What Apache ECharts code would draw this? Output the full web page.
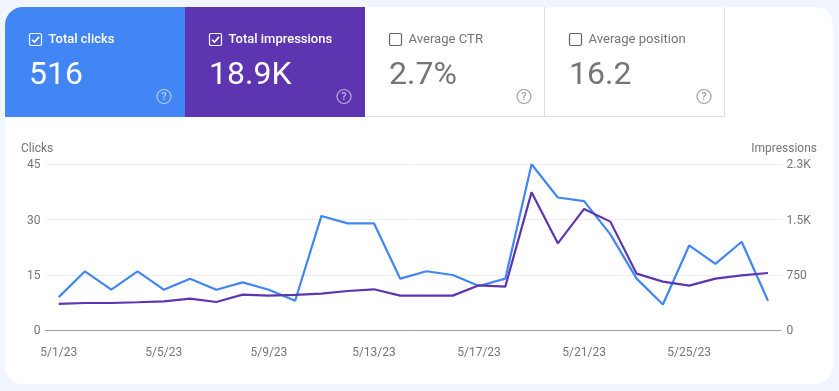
<!DOCTYPE html>
<html>
<head>
<meta charset="utf-8">
<style>html,body{margin:0;padding:0;background:#f1f5fd}#c{width:839px;height:391px}</style>
<script src="https://cdn.jsdelivr.net/npm/echarts@6/dist/echarts.min.js"></script>
</head>
<body>
<div id="c"></div>
<script>
const categories = ['5/1/23','5/2/23','5/3/23','5/4/23','5/5/23','5/6/23','5/7/23','5/8/23','5/9/23','5/10/23','5/11/23','5/12/23','5/13/23','5/14/23','5/15/23','5/16/23','5/17/23','5/18/23','5/19/23','5/20/23','5/21/23','5/22/23','5/23/23','5/24/23','5/25/23','5/26/23','5/27/23','5/28/23'];
const clicks = [9,16,11,16,11,14,11,13,11,8,31,29,29,14,16,15,12,14,45,36,35,26,14,7,23,18,24,8];
const impressions = [357,370,370,380,393,429,384,483,470,479,497,533,556,470,470,470,610,592,1870,1179,1645,1473,768,660,605,700,745,777];
const rightTickLabels = {0:'0',750:'750',1500:'1.5K',2250:'2.3K'};
const cardTitles = ['Total clicks','Total impressions','Average CTR','Average position'];
const cardValues = ['516','18.9K','2.7%','16.2'];

const BLUE='#4285f4', PURPLE='#5e35b1', GREY='#757575';
const cardX=[5,185,365,545], cardW=180, cardY=7, cardH=110;
const els=[];
els.push({type:'rect',z:-10,silent:true,shape:{x:5,y:7,width:828,height:377,r:18},style:{fill:'#fff'}});
cardX.forEach((x,i)=>{
  const active=i<2;
  const fg=active?'#fff':GREY;
  if(active){
    els.push({type:'rect',z:-5,silent:true,shape:{x,y:cardY,width:cardW,height:cardH,r:i===0?[18,0,0,0]:0},style:{fill:i===0?BLUE:PURPLE}});
  } else {
    els.push({type:'line',z:-5,silent:true,shape:{x1:x,y1:116.5,x2:x+cardW,y2:116.5},style:{stroke:'#e0e0e0',lineWidth:1}});
    els.push({type:'line',z:-5,silent:true,shape:{x1:x+cardW-.5,y1:7,x2:x+cardW-.5,y2:117},style:{stroke:'#e0e0e0',lineWidth:1}});
  }
  const bx=x+24.5,by=33.5;
  els.push({type:'rect',silent:true,shape:{x:bx,y:by,width:12,height:12,r:1.5},style:{fill:'none',stroke:active?'#fff':'#5f6368',lineWidth:1.2}});
  if(active) els.push({type:'polyline',silent:true,shape:{points:[[bx+2.6,by+6.2],[bx+5,by+8.6],[bx+9.6,by+3.4]]},style:{fill:'none',stroke:'#fff',lineWidth:1.6}});
  els.push({type:'text',silent:true,style:{x:x+43.5,y:39.5,text:cardTitles[i],fill:active?'#fff':GREY,font:active?'500 13px Roboto':'400 13.1px Roboto',textVerticalAlign:'middle'}});
  els.push({type:'text',silent:true,style:{x:x+24,y:75.5,text:cardValues[i],fill:fg,font:'32px Roboto',textVerticalAlign:'middle'}});
  const qx=x+159,qy=96.5,qc=active?'rgba(255,255,255,0.6)':'#9e9e9e';
  els.push({type:'circle',silent:true,shape:{cx:qx,cy:qy,r:7},style:{fill:'none',stroke:qc,lineWidth:1.2}});
  els.push({type:'text',silent:true,style:{x:qx,y:qy+.5,text:'?',fill:qc,font:'500 11px Roboto',textAlign:'center',textVerticalAlign:'middle'}});
});
els.push({type:'text',silent:true,style:{x:21,y:148.5,text:'Clicks',fill:GREY,font:'12px Roboto',textVerticalAlign:'middle'}});
els.push({type:'text',silent:true,style:{x:817,y:148.5,text:'Impressions',fill:GREY,font:'12px Roboto',textAlign:'right',textVerticalAlign:'middle'}});

const chart=echarts.init(document.getElementById('c'),null,{renderer:'canvas'});
chart.setOption({
  animation:false,
  backgroundColor:'transparent',
  textStyle:{fontFamily:'Roboto'},
  graphic:{elements:els},
  grid:{left:45.6,right:57.9,top:164.3,bottom:60.7,containLabel:false},
  xAxis:{type:'category',data:categories,boundaryGap:true,
    axisTick:{show:false},
    axisLine:{lineStyle:{color:'#9e9e9e',width:1}},
    axisLabel:{interval:3,color:GREY,fontSize:12,fontFamily:'Roboto',margin:17}},
  yAxis:[
    {type:'value',min:0,max:45,interval:15,
      axisLine:{show:false},axisTick:{show:false},
      axisLabel:{color:GREY,fontSize:12,fontFamily:'Roboto',margin:5,verticalAlign:'top',lineHeight:2},
      splitLine:{lineStyle:{color:'#eeeeee',width:1}}},
    {type:'value',min:0,max:2250,interval:750,position:'right',
      axisLine:{show:false},axisTick:{show:false},
      axisLabel:{color:GREY,fontSize:12,fontFamily:'Roboto',margin:5.5,verticalAlign:'top',lineHeight:2,formatter:v=>rightTickLabels[v]},
      splitLine:{show:false}}
  ],
  series:[
    {name:'Clicks',type:'line',data:clicks,yAxisIndex:0,symbol:'none',lineStyle:{color:BLUE,width:2.2},itemStyle:{color:BLUE},z:2},
    {name:'Impressions',type:'line',data:impressions,yAxisIndex:1,symbol:'none',lineStyle:{color:PURPLE,width:2.2},itemStyle:{color:PURPLE},z:3}
  ]
});
</script>
</body>
</html>
